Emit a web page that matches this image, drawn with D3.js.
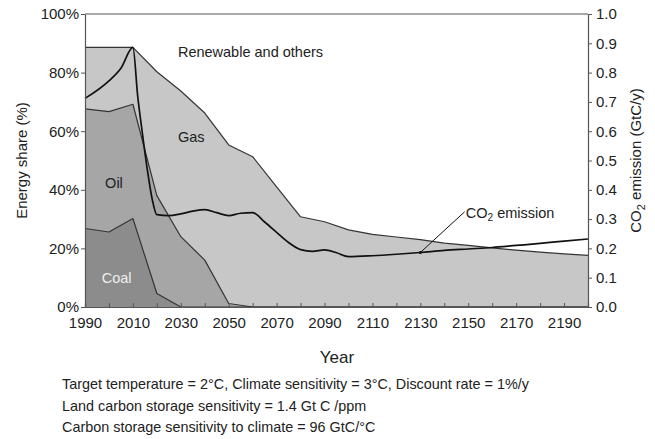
<!DOCTYPE html>
<html><head><meta charset="utf-8">
<script src="https://cdn.jsdelivr.net/npm/d3@7"></script>
<style>
body{margin:0;background:#fff;}
text{font-family:Arial,"Liberation Sans",sans-serif;fill:#222;}
</style></head>
<body><svg id="c" width="655" height="439"></svg>
<script>
const years = [1990,2000,2010,2020,2030,2040,2050,2060,2070,2080,2090,2100,2110,2120,2130,2140,2150,2160,2170,2180,2190,2200];
const coal  = [26.8,25.6,30.2,4.6,0,0,0,0,0,0,0,0,0,0,0,0,0,0,0,0,0,0];
const oil   = [40.8,41.1,39.0,33.4,24.0,16.0,1.2,0,0,0,0,0,0,0,0,0,0,0,0,0,0,0];
const gas   = [21.0,21.9,19.4,42.3,49.7,50.2,54.1,51.3,41.0,30.8,29.1,26.3,24.8,23.9,23.0,21.8,21.0,20.2,19.4,18.7,18.1,17.6];
const renewable = years.map((y,i)=>100-coal[i]-oil[i]-gas[i]);
const co2Years = [1990,2000,2005,2010,2012,2014,2016,2018,2020,2025,2030,2035,2040,2045,2050,2055,2060,2065,2070,2075,2080,2085,2090,2095,2100,2110,2120,2130,2140,2150,2160,2170,2180,2190,2200];
const co2      = [0.712,0.772,0.815,0.886,0.72,0.59,0.47,0.37,0.315,0.312,0.318,0.327,0.332,0.322,0.312,0.32,0.322,0.29,0.255,0.22,0.196,0.19,0.195,0.185,0.172,0.175,0.18,0.186,0.193,0.198,0.203,0.21,0.217,0.225,0.232];
const xTicks = [1990,2010,2030,2050,2070,2090,2110,2130,2150,2170,2190];
const yTicks = [0,20,40,60,80,100];
const y2Ticks = [0,0.1,0.2,0.3,0.4,0.5,0.6,0.7,0.8,0.9,1.0];
const footnotes = ["Target temperature = 2\u00b0C, Climate sensitivity = 3\u00b0C, Discount rate = 1%/y",
  "Land carbon storage sensitivity = 1.4 Gt C /ppm",
  "Carbon storage sensitivity to climate = 96 GtC/\u00b0C"];

const L=85,R=588,T=14,B=307;
const svg=d3.select("#c");
const x=d3.scaleLinear().domain([1990,2200]).range([L,R]);
const y=d3.scaleLinear().domain([0,100]).range([B,T]);
const y2=d3.scaleLinear().domain([0,1]).range([B,T]);

const table=years.map((yr,i)=>({year:yr,coal:coal[i],oil:oil[i],gas:gas[i],renewable:renewable[i]}));
const keys=["coal","oil","gas","renewable"];
const fills={coal:"#8c8c8c",oil:"#a6a6a6",gas:"#c7c7c7",renewable:"#ffffff"};
const stack=d3.stack().keys(keys)(table);
const area=d3.area().x(d=>x(d.data.year)).y0(d=>y(d[0])).y1(d=>y(d[1]));
svg.append("g").selectAll("path").data(stack).join("path")
  .attr("d",area).attr("fill",d=>fills[d.key]);
const topLine=d3.line().x(d=>x(d.data.year)).y(d=>y(d[1]));
svg.append("g").selectAll("path").data(stack.slice(0,3)).join("path")
  .attr("d",topLine).attr("fill","none").attr("stroke","#333").attr("stroke-width",1.2).attr("stroke-linejoin","round");

// CO2 line
const co2Line=d3.line().x((d,i)=>x(co2Years[i])).y(d=>y2(d)).curve(d3.curveMonotoneX);
svg.append("path").attr("d",co2Line(co2)).attr("fill","none").attr("stroke","#111").attr("stroke-width",1.7);

// frame
svg.append("line").attr("x1",L).attr("x2",R).attr("y1",T).attr("y2",T).attr("stroke","#555").attr("stroke-width",1.2);

// axes
const xAxis=d3.axisBottom(x).tickValues(d3.range(1990,2201,10)).tickSize(-4).tickFormat(d=>xTicks.includes(d)?d:"");
const gx=svg.append("g").attr("transform",`translate(0,${B})`).call(xAxis);
gx.select(".domain").attr("stroke","#555").attr("stroke-width",1.2);
gx.selectAll(".tick line").attr("stroke","#555");
gx.selectAll(".tick text").attr("y",7).attr("dy","0.95em").attr("font-size",15).attr("fill","#222");
gx.selectAll(".tick").filter(d=>d===2200).select("line").remove();

const gy=svg.append("g").attr("transform",`translate(${L},0)`).call(d3.axisLeft(y).tickValues(yTicks).tickSize(4).tickSizeOuter(0).tickFormat(d=>d+"%"));
gy.select(".domain").attr("stroke","#555").attr("stroke-width",1.2);
gy.selectAll(".tick line").attr("stroke","#555");
gy.selectAll(".tick text").attr("font-size",15).attr("fill","#222").attr("x",-6);

const gy2=svg.append("g").attr("transform",`translate(${R},0)`).call(d3.axisRight(y2).tickValues(y2Ticks).tickSize(4).tickSizeOuter(0).tickFormat(d3.format(".1f")));
gy2.select(".domain").attr("stroke","#555").attr("stroke-width",1.2);
gy2.selectAll(".tick line").attr("stroke","#555");
gy2.selectAll(".tick text").attr("font-size",15).attr("fill","#222").attr("x",8);

// axis titles
svg.append("text").attr("transform",`translate(27,${(T+B)/2}) rotate(-90)`).attr("text-anchor","middle").attr("font-size",15).text("Energy share (%)");
const rt=svg.append("text").attr("transform",`translate(641,${(T+B)/2}) rotate(-90)`).attr("text-anchor","middle").attr("font-size",15);
rt.append("tspan").text("CO");
rt.append("tspan").attr("font-size",11).attr("dy",4).text("2");
rt.append("tspan").attr("dy",-4).text(" emission (GtC/y)");
svg.append("text").attr("x",337).attr("y",363).attr("text-anchor","middle").attr("font-size",17).text("Year");

// area labels
svg.append("text").attr("x",x(2028.8)).attr("y",y(85.3)).attr("font-size",14.5).text("Renewable and others");
svg.append("text").attr("x",x(2028.8)).attr("y",y(56.3)).attr("font-size",14.5).text("Gas");
svg.append("text").attr("x",x(1998.4)).attr("y",y(40.6)).attr("font-size",14.5).text("Oil");
svg.append("text").attr("x",x(1997)).attr("y",y(8.2)).attr("font-size",14.5).style("fill","#eeeeee").text("Coal");

// CO2 annotation
const ax=2130, ay=0.186;
svg.append("line").attr("x1",x(ax)).attr("y1",y2(ay)).attr("x2",x(2148.5)).attr("y2",y2(0.325)).attr("stroke","#111").attr("stroke-width",1);
svg.append("circle").attr("cx",x(ax)).attr("cy",y2(ay)).attr("r",1.5).attr("fill","#111");
const ct=svg.append("text").attr("x",x(2149)).attr("y",y2(0.305)).attr("font-size",14.5);
ct.append("tspan").text("CO");
ct.append("tspan").attr("font-size",10).attr("dy",3).text("2");
ct.append("tspan").attr("dy",-3).text(" emission");

// footnotes
svg.append("g").selectAll("text").data(footnotes).join("text")
  .attr("x",62).attr("y",(d,i)=>389+i*21.5).attr("font-size",14.4).text(d=>d);
</script></body></html>
